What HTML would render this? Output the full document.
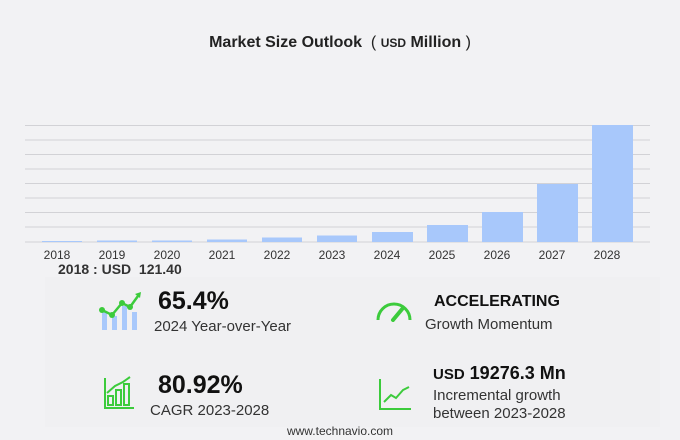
<!DOCTYPE html>
<html><head><style>
body{margin:0;width:680px;height:440px;background:#f2f2f4;font-family:"Liberation Sans",sans-serif;position:relative;overflow:hidden}
.a{position:absolute;white-space:nowrap}
</style></head><body>
<div class="a" style="left:0;width:680px;top:34px;text-align:center;font-size:16px;font-weight:bold;color:#222">Market Size Outlook &nbsp;<span style="font-weight:normal">(</span> <span style="font-size:12px">USD</span> Million <span style="font-weight:normal">)</span></div>
<svg class="a" style="left:0;top:0" width="680" height="280">
<g stroke="#d2d2d6" stroke-width="1">
<line x1="25" x2="650" y1="125.5" y2="125.5"/><line x1="25" x2="650" y1="140" y2="140"/><line x1="25" x2="650" y1="154.5" y2="154.5"/><line x1="25" x2="650" y1="169" y2="169"/><line x1="25" x2="650" y1="183.5" y2="183.5"/><line x1="25" x2="650" y1="198" y2="198"/><line x1="25" x2="650" y1="212.5" y2="212.5"/><line x1="25" x2="650" y1="227" y2="227"/><line x1="25" x2="650" y1="242" y2="242"/>
</g>
<g fill="#a8c8fb">
<rect x="42" y="241" width="40" height="1"/><rect x="97" y="240.5" width="40" height="1.5"/><rect x="152" y="240.5" width="40" height="1.5"/><rect x="207" y="239.5" width="40" height="2.5"/><rect x="262" y="237.5" width="40" height="4.5"/><rect x="317" y="235.5" width="40" height="6.5"/><rect x="372" y="232" width="41" height="10"/><rect x="427" y="225" width="41" height="17"/><rect x="482" y="212" width="41" height="30"/><rect x="537" y="184" width="41" height="58"/><rect x="592" y="125" width="41" height="117"/>
</g>
<g font-size="12" fill="#333" text-anchor="middle" font-family="Liberation Sans">
<text x="57" y="259">2018</text><text x="112" y="259">2019</text><text x="167" y="259">2020</text><text x="222" y="259">2021</text><text x="277" y="259">2022</text><text x="332" y="259">2023</text><text x="387" y="259">2024</text><text x="442" y="259">2025</text><text x="497" y="259">2026</text><text x="552" y="259">2027</text><text x="607" y="259">2028</text>
</g>
</svg>
<div class="a" style="left:58px;top:261px;font-size:14px;font-weight:bold;color:#333">2018 : USD &nbsp;121.40</div>
<div class="a" style="left:45px;top:277px;width:615px;height:150px;background:#f0f0f2"></div>
<svg class="a" style="left:98px;top:290px" width="46" height="42">
<g fill="#a8c8fb"><rect x="4" y="22" width="5" height="18"/><rect x="14" y="26" width="5" height="14"/><rect x="24" y="16" width="5" height="24"/><rect x="34" y="22" width="5" height="18"/></g>
<polyline points="4,20 14,25 24,13 32,17 40,6" fill="none" stroke="#3ccb3c" stroke-width="2.5"/>
<g fill="#3ccb3c"><circle cx="4" cy="20" r="3"/><circle cx="14" cy="25" r="3"/><circle cx="24" cy="13" r="3"/><circle cx="32" cy="17" r="3"/><path d="M37 4 L43 2 L42 8Z"/></g>
</svg>
<div class="a" style="left:158px;top:287px;font-size:25px;font-weight:bold;color:#111">65.4%</div>
<div class="a" style="left:154px;top:318px;font-size:15px;color:#333">2024 Year-over-Year</div>
<svg class="a" style="left:375px;top:298px" width="38" height="24"><path d="M3 22 A16 16 0 0 1 35 22" fill="none" stroke="#3ccb3c" stroke-width="3"/><line x1="18" y1="22" x2="28" y2="10" stroke="#3ccb3c" stroke-width="4" stroke-linecap="round"/></svg>
<div class="a" style="left:434px;top:293px;font-size:16px;font-weight:bold;color:#111">ACCELERATING</div>
<div class="a" style="left:425px;top:316px;font-size:15px;color:#333">Growth Momentum</div>
<svg class="a" style="left:104px;top:376px" width="30" height="34" fill="none" stroke="#3ccb3c" stroke-width="2"><polyline points="1,2 1,32 30,32"/><rect x="4" y="20" width="5" height="9"/><rect x="12" y="14" width="5" height="15"/><rect x="20" y="8" width="5" height="21"/><polyline points="3,17 11,10 19,6 26,1"/></svg>
<div class="a" style="left:158px;top:371px;font-size:25px;font-weight:bold;color:#111">80.92%</div>
<div class="a" style="left:150px;top:402px;font-size:15px;color:#333">CAGR 2023-2028</div>
<svg class="a" style="left:379px;top:378px" width="32" height="32" fill="none" stroke="#3ccb3c" stroke-width="2"><polyline points="1,1 1,31 32,31"/><polyline points="5,24 12,17 17,20 24,12 30,9"/></svg>
<div class="a" style="left:433px;top:363px;font-size:18px;font-weight:bold;color:#111"><span style="font-size:15px">USD</span> 19276.3 Mn</div>
<div class="a" style="left:433px;top:387px;font-size:15px;color:#333;line-height:18px">Incremental growth<br>between 2023-2028</div>
<div class="a" style="left:0;width:680px;top:424px;text-align:center;font-size:12px;color:#333">www.technavio.com</div>
</body></html>
